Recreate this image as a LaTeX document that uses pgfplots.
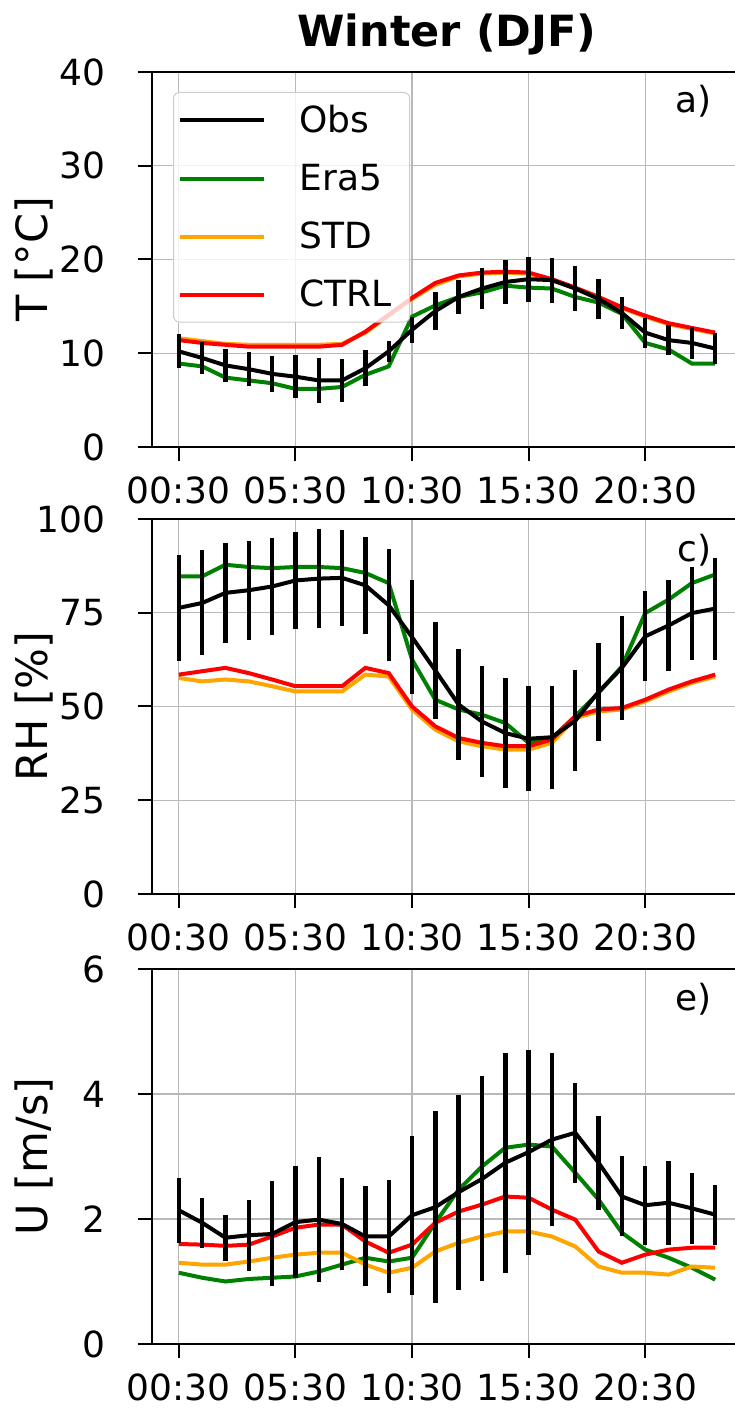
\documentclass[border=0pt]{standalone}
\usepackage{fontspec}
\setmainfont{DejaVu Sans}
\usepackage{pgfplots}
\pgfplotsset{compat=1.18}
\usepackage{pgfplotstable}

\definecolor{mgreen}{HTML}{008000}
\definecolor{morange}{HTML}{FFA500}
\definecolor{mred}{HTML}{FF0000}

% columns: h obs err era5 std ctrl
\pgfplotstableread{
h obs err era std ctrl
0 10.2 1.8 8.9 11.6 11.4
1 9.5 1.7 8.6 11.3 11.1
2 8.7 1.8 7.4 11.0 10.9
3 8.3 1.8 7.1 10.9 10.7
4 7.8 1.9 6.8 10.9 10.7
5 7.5 2.3 6.2 10.9 10.7
6 7.1 2.4 6.2 10.9 10.7
7 7.1 2.3 6.4 11.0 10.9
8 8.4 1.9 7.7 12.2 12.3
9 10.2 1.1 8.6 14.0 14.1
10 12.5 1.4 13.9 15.8 15.9
11 14.5 2.0 15.1 17.3 17.5
12 16.0 1.8 16.0 18.2 18.3
13 16.9 2.2 16.5 18.5 18.6
14 17.6 2.3 17.2 18.6 18.7
15 17.9 2.4 17.0 18.5 18.6
16 17.8 2.4 16.9 17.8 17.9
17 16.9 2.4 16.0 16.9 17.0
18 15.8 2.1 15.4 15.9 16.0
19 14.3 1.7 14.2 14.8 14.9
20 12.2 1.6 11.1 13.9 14.0
21 11.4 1.6 10.4 13.1 13.2
22 11.1 1.7 8.9 12.6 12.7
23 10.5 1.7 8.9 12.1 12.2
}\tabT

\pgfplotstableread{
h obs err era std ctrl
0 76.3 14.2 84.7 57.6 58.5
1 77.6 14.0 84.7 56.7 59.4
2 80.3 13.3 87.8 57.2 60.3
3 81.0 13.2 87.2 56.7 58.9
4 82.0 13.0 86.9 55.4 57.2
5 83.6 13.0 87.2 54.0 55.4
6 84.1 13.2 87.2 54.0 55.4
7 84.3 12.8 86.9 54.0 55.4
8 82.3 13.0 85.6 58.5 60.3
9 77.0 15.0 82.9 58.0 58.9
10 68.5 15.3 62.5 49.2 50.0
11 59.6 13.0 51.8 43.8 44.7
12 50.5 14.7 49.2 40.7 41.6
13 46.0 14.7 47.8 39.4 40.3
14 42.9 14.7 45.6 38.5 39.4
15 41.4 14.0 40.3 38.5 39.4
16 41.8 13.7 41.6 40.3 41.2
17 46.2 13.5 47.4 46.9 47.4
18 53.9 13.0 53.6 48.7 49.2
19 60.3 13.8 60.7 49.2 49.6
20 68.7 12.0 74.9 51.4 51.8
21 71.6 12.2 78.5 54.0 54.5
22 74.9 12.4 82.9 56.3 56.7
23 76.1 13.6 85.2 58.0 58.5
}\tabRH

\pgfplotstableread{
h obs err era std ctrl
0 2.14 0.52 1.14 1.30 1.60
1 1.94 0.40 1.06 1.27 1.59
2 1.70 0.37 1.00 1.27 1.57
3 1.74 0.57 1.04 1.32 1.59
4 1.76 0.84 1.06 1.38 1.72
5 1.95 0.90 1.08 1.43 1.86
6 1.99 1.00 1.16 1.46 1.91
7 1.92 0.73 1.27 1.46 1.91
8 1.72 0.80 1.38 1.27 1.64
9 1.72 0.90 1.32 1.14 1.46
10 2.06 1.27 1.38 1.22 1.59
11 2.19 1.53 1.94 1.48 1.94
12 2.43 1.56 2.47 1.62 2.12
13 2.64 1.64 2.84 1.72 2.23
14 2.90 1.76 3.14 1.80 2.36
15 3.07 1.64 3.19 1.80 2.34
16 3.27 1.39 3.16 1.72 2.15
17 3.38 0.80 2.74 1.56 1.99
18 2.90 0.75 2.31 1.24 1.48
19 2.36 0.64 1.78 1.14 1.30
20 2.22 0.63 1.51 1.14 1.43
21 2.26 0.67 1.38 1.11 1.51
22 2.17 0.57 1.22 1.24 1.54
23 2.07 0.48 1.03 1.22 1.54
}\tabU

\pgfplotsset{
  panel/.style={
    scale only axis, width=295pt, height=187.5pt,
    anchor=south west,
    xmin=-1.15, xmax=24.15,
    xtick={0,5,10,15,20},
    xticklabels={00:30,05:30,10:30,15:30,20:30},
    grid=major,
    grid style={gray!55, line width=0.6pt},
    tick align=outside, tick pos=left,
    major tick length=7pt,
    tick style={black, line width=1pt},
    axis line style={line width=1pt},
    /pgf/number format/assume math mode=true,
    ticklabel style={font=\fontsize{18}{21}\selectfont},
    xticklabel style={yshift=-4.5pt},
    yticklabel style={xshift=-13pt},
    ylabel style={at={(axis description cs:-0.2,0.5)}, anchor=center,
      font=\fontsize{21.5}{25}\selectfont},
    clip=true,
  },
  obsline/.style={black, line width=2pt},
  eraline/.style={mgreen, line width=2pt},
  stdline/.style={morange, line width=2pt},
  ctrlline/.style={mred, line width=2pt},
}

\newcommand{\drawseries}[1]{%
  \addplot[eraline, forget plot] table[x=h, y=era] {#1};
  \addplot[stdline, forget plot] table[x=h, y=std] {#1};
  \addplot[ctrlline, forget plot] table[x=h, y=ctrl] {#1};
  \addplot[obsline, forget plot,
    error bars/.cd, y dir=both, y explicit, error mark=none,
    error bar style={black, line width=2.2pt}]
    table[x=h, y=obs, y error=err] {#1};
}

\begin{document}
\begin{tikzpicture}
\useasboundingbox (0,0) rectangle (367pt,704pt);

% ---------- a) Temperature ----------
\begin{axis}[panel, at={(76pt,480.5pt)},
  ymin=0, ymax=40, ytick={0,10,20,30,40},
  ylabel={T [°C]},
  title={Winter (DJF)},
  every axis title shift=0pt,
  title style={font=\bfseries\fontsize{21.5}{25}\selectfont,
    at={(axis description cs:0.5,1)}, anchor=base, yshift=12.5pt},
  legend cell align=left,
  legend image code/.code={\draw[#1] (0pt,0pt) -- (42pt,0pt);},
  legend style={at={(axis description cs:0,1)}, anchor=north west,
    xshift=10.5pt, yshift=-10pt,
    draw=gray!40, line width=0.5pt, rounded corners=3pt,
    fill=white, fill opacity=0.8, text opacity=1,
    font=\fontsize{18}{21}\selectfont,
    row sep=10.25pt, inner xsep=2pt, inner ysep=4.3pt,
    /tikz/column sep=15pt, nodes={inner sep=2pt}},
]
\addlegendimage{obsline}\addlegendentry{Obs}
\addlegendimage{eraline}\addlegendentry{Era5}
\addlegendimage{stdline}\addlegendentry{STD}
\addlegendimage{ctrlline}\addlegendentry{CTRL\hspace*{5pt}}
\drawseries{\tabT}
\node[anchor=north east, inner sep=0pt, font=\fontsize{18}{21}\selectfont]
  at (axis description cs:0.949,1) [yshift=-6.5pt] {a)};
\end{axis}

% ---------- c) Relative humidity ----------
\begin{axis}[panel, at={(76pt,257pt)},
  ymin=0, ymax=100, ytick={0,25,50,75,100},
  ylabel={RH [\%]},
]
\drawseries{\tabRH}
\node[anchor=north east, inner sep=0pt, font=\fontsize{18}{21}\selectfont]
  at (axis description cs:0.949,1) [yshift=-7.5pt] {c)};
\end{axis}

% ---------- e) Wind speed ----------
\begin{axis}[panel, at={(76pt,32pt)},
  ymin=0, ymax=6, ytick={0,2,4,6},
  ylabel={U [m/s]},
]
\drawseries{\tabU}
\node[anchor=north east, inner sep=0pt, font=\fontsize{18}{21}\selectfont]
  at (axis description cs:0.949,1) [yshift=-7pt] {e)};
\end{axis}
\end{tikzpicture}
\end{document}
